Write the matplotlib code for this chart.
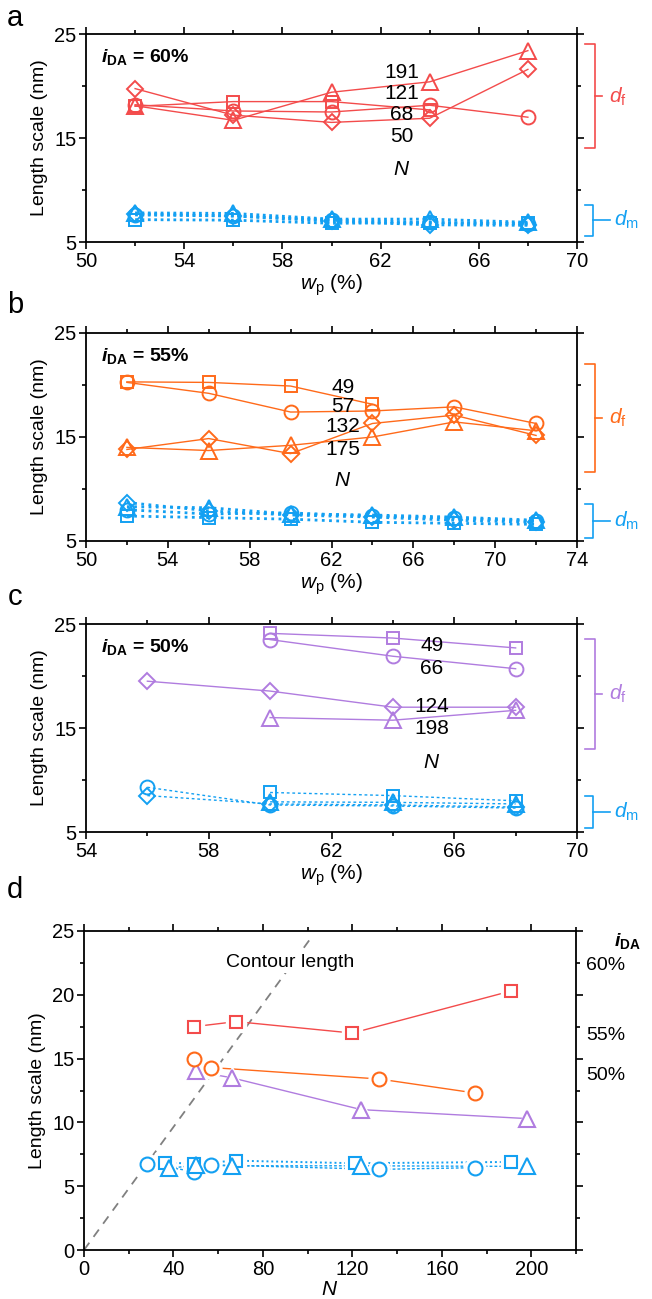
import numpy as np
import matplotlib
matplotlib.use('Agg')
import matplotlib.pyplot as plt
import matplotlib.transforms as mtransforms
from matplotlib.ticker import MultipleLocator

plt.rcParams['font.family'] = ['Liberation Sans', 'DejaVu Sans']
plt.rcParams['mathtext.fontset'] = 'custom'
plt.rcParams['mathtext.rm'] = 'Liberation Sans'
plt.rcParams['mathtext.it'] = 'Liberation Sans:italic'
plt.rcParams['mathtext.bf'] = 'Liberation Sans:bold'
plt.rcParams['mathtext.bfit'] = 'Liberation Sans:italic:bold'

nan = np.nan

# ---- panel a : i_DA = 60 % ----
wp_a = [52, 56, 60, 64, 68]
a_df_sq = [18.05, 18.5, 18.5, 17.7, nan]
a_df_ci = [18.2, 17.6, 17.5, 18.15, 17.0]
a_df_tr = [18.1, 16.7, 19.4, 20.4, 23.4]
a_df_di = [19.75, 17.2, 16.5, 16.9, 21.6]
a_dm_sq = [7.15, 7.1, 6.8, 6.85, 6.8]
a_dm_ci = [7.6, 7.5, 7.1, 6.9, 6.7]
a_dm_tr = [7.8, 7.75, 7.2, 7.2, 6.9]
a_dm_di = [7.7, 7.5, 7.0, 6.65, 6.6]
a_N = ['191', '121', '68', '50']

# ---- panel b : i_DA = 55 % ----
wp_b = [52, 56, 60, 64, 68, 72]
b_df_sq = [20.3, 20.25, 19.9, 18.15, nan, nan]
b_df_ci = [20.25, 19.2, 17.4, 17.5, 17.9, 16.3]
b_df_di = [13.8, 14.85, 13.4, 16.3, 17.1, 15.15]
b_df_tr = [14.0, 13.7, 14.2, 15.0, 16.45, 15.6]
b_dm_sq = [7.4, 7.25, 7.1, 6.8, 6.7, 6.6]
b_dm_ci = [8.0, 7.6, 7.7, 7.4, 7.2, 6.9]
b_dm_tr = [8.3, 8.2, 7.6, 7.5, 7.3, 7.0]
b_dm_di = [8.7, 7.9, 7.5, 7.3, 7.0, 6.8]
b_N = ['49', '57', '132', '175']

# ---- panel c : i_DA = 50 % ----
wp_c = [56, 60, 64, 68]
c_df_sq = [nan, 24.1, 23.65, 22.7]
c_df_ci = [nan, 23.5, 21.9, 20.7]
c_df_di = [19.5, 18.55, 17.0, 17.0]
c_df_tr = [nan, 16.0, 15.75, 16.7]
c_dm_sq = [nan, 8.8, 8.5, 8.0]
c_dm_ci = [9.3, 7.6, 7.5, 7.3]
c_dm_tr = [nan, 7.9, 7.85, 7.7]
c_dm_di = [8.5, 7.7, 7.6, 7.4]
c_N = ['49', '66', '124', '198']

# ---- panel d : length scale vs N ----
N_60 = [49, 68, 120, 191]
df_60 = [17.5, 17.9, 17.0, 20.3]
N_55 = [49, 57, 132, 175]
df_55 = [14.95, 14.3, 13.4, 12.3]
N_50 = [50, 66, 124, 198]
df_50 = [14.0, 13.5, 11.0, 10.3]
Nm_60 = [36, 49, 68, 121, 191]
dm_60 = [6.85, 6.77, 7.0, 6.8, 6.9]
Nm_55 = [28, 49, 57, 132, 175]
dm_55 = [6.77, 6.15, 6.67, 6.32, 6.45]
Nm_50 = [38, 50, 66, 124, 198]
dm_50 = [6.4, 6.65, 6.6, 6.6, 6.55]
contour_N = [0, 102]
contour_nm_per_N = 0.241

RED = '#f34b4b'
ORANGE = '#ff6a1a'
PURPLE = '#b07cdf'
BLUE = '#13a0f2'

W, H = 652, 1299
fig = plt.figure(figsize=(W / 100, H / 100), dpi=100)


def rect(l, r, t, b):
    return [l / W, 1 - b / H, (r - l) / W, (b - t) / H]


def style_axes(ax, xmaj, xoff, xmin, ymaj, yoff, ymin):
    ax.xaxis.set_major_locator(MultipleLocator(xmaj, offset=xoff))
    ax.xaxis.set_minor_locator(MultipleLocator(xmin))
    ax.yaxis.set_major_locator(MultipleLocator(ymaj, offset=yoff))
    ax.yaxis.set_minor_locator(MultipleLocator(ymin))
    ax.tick_params(which='both', direction='out', top=True, right=True, width=1.2, labelsize=14.5, pad=2)
    ax.tick_params(which='major', length=5)
    ax.tick_params(which='minor', length=3)
    for sp in ax.spines.values():
        sp.set_linewidth(1.3)


MARKS = {'s': 9, 'o': 10, '^': 11, 'D': 8.5}


def series(ax, x, y, mk, color, ls, lw):
    ax.plot(x, y, ls=ls, lw=lw, color=color, marker=mk, ms=MARKS[mk], mfc='none',
            mec=color, mew=1.4, zorder=3)


def bracket(ax, y0, y1, color, label, xv, xe, xt, xl):
    tr = mtransforms.blended_transform_factory(ax.transAxes, ax.transData)
    ym = 0.5 * (y0 + y1)
    ax.plot([xe, xv, xv, xe], [y0, y0, y1, y1], color=color, lw=1.2, transform=tr, clip_on=False)
    ax.plot([xv, xt], [ym, ym], color=color, lw=1.2, transform=tr, clip_on=False)
    ax.text(xl, ym, label, color=color, fontsize=15, transform=tr, ha='left', va='center')


def wp_panel(rc, xlim, wp, df_list, dm_list, color, dm_ls, dm_lw, title, nlab, nx, ny, br):
    ax = fig.add_axes(rect(*rc))
    for y, mk in zip(dm_list, ['s', 'o', '^', 'D']):
        series(ax, wp, y, mk, BLUE, dm_ls, dm_lw)
    for y, mk in zip(df_list, ['s', 'o', '^', 'D']):
        series(ax, wp, y, mk, color, '-', 1.0)
    ax.set_xlim(*xlim)
    ax.set_ylim(5, 25)
    style_axes(ax, 4, 2, 2, 10, 5, 5)
    ax.set_ylabel('Length scale (nm)', fontsize=14, labelpad=4)
    ax.set_xlabel(r'$w_\mathrm{p}$ (%)', fontsize=15, labelpad=1)
    ax.text(0.03, 0.89, r'$\mathbfit{i}_\mathbf{DA}$' + ' = ' + title, transform=ax.transAxes,
            fontsize=14, fontweight='bold', ha='left', va='center')
    for lab, yy in zip(nlab, ny[:-1]):
        ax.text(nx, yy, lab, fontsize=15, ha='center', va='center', zorder=5)
    ax.text(nx, ny[-1], r'$N$', fontsize=15, ha='center', va='center')
    bracket(ax, br[0], br[1], color, r'$d_\mathrm{f}$', 1.037, 1.016, 1.05, 1.066)
    bracket(ax, br[2], br[3], BLUE, r'$d_\mathrm{m}$', 1.033, 1.016, 1.067, 1.075)
    return ax


ax_a = wp_panel((86, 577, 34, 242), (50, 70), wp_a,
                [a_df_sq, a_df_ci, a_df_tr, a_df_di], [a_dm_sq, a_dm_ci, a_dm_tr, a_dm_di],
                RED, (0, (1, 1.3)), 2.0, '60%', a_N, 62.86, [21.3, 19.3, 17.3, 15.1, 12.0],
                (24.0, 14.0, 8.6, 5.6))
ax_b = wp_panel((86, 577, 333, 541), (50, 74), wp_b,
                [b_df_sq, b_df_ci, b_df_tr, b_df_di], [b_dm_sq, b_dm_ci, b_dm_tr, b_dm_di],
                ORANGE, (0, (1, 1.6)), 2.0, '55%', b_N, 62.56, [19.8, 17.9, 16.0, 13.75, 10.8],
                (22.0, 11.6, 8.6, 5.3))
ax_c = wp_panel((86, 577, 624, 832), (54, 70), wp_c,
                [c_df_sq, c_df_ci, c_df_tr, c_df_di], [c_dm_sq, c_dm_ci, c_dm_tr, c_dm_di],
                PURPLE, (0, (2, 2)), 1.0, '50%', c_N, 65.27, [22.9, 20.7, 17.05, 15.0, 11.7],
                (23.6, 13.0, 8.5, 5.4))

# ---- panel d ----
ax_d = fig.add_axes(rect(84, 576, 931, 1250))
cx = np.array(contour_N)
ax_d.plot(cx, cx * contour_nm_per_N, color='#808080', lw=1.3, ls=(0, (5, 4)), zorder=1)
ax_d.text(92, 22.5, 'Contour length', fontsize=14, ha='center', va='center', zorder=2,
          bbox=dict(facecolor='white', edgecolor='none', pad=1))


def gap_series(ax, x, y, mk, color, ls, lw):
    ax.plot(x, y, ls=ls, lw=lw, color=color, zorder=3)
    ax.plot(x, y, ls='none', marker=mk, ms=MARKS[mk] + 5, mfc='white', mec='white', zorder=4)
    ax.plot(x, y, ls='none', marker=mk, ms=MARKS[mk], mfc='white', mec=color, mew=1.5, zorder=5)


gap_series(ax_d, Nm_55, dm_55, 'o', BLUE, (0, (2, 1.5)), 1.0)
gap_series(ax_d, Nm_60, dm_60, 's', BLUE, (0, (1, 1.5)), 1.4)
gap_series(ax_d, Nm_50, dm_50, '^', BLUE, (0, (2, 1.5)), 1.0)
gap_series(ax_d, N_60, df_60, 's', RED, '-', 1.0)
gap_series(ax_d, N_50, df_50, '^', PURPLE, '-', 1.0)
gap_series(ax_d, N_55, df_55, 'o', ORANGE, '-', 1.0)
ax_d.set_xlim(0, 220)
ax_d.set_ylim(0, 25)
style_axes(ax_d, 40, 0, 20, 5, 0, 2.5)
ax_d.set_ylabel('Length scale (nm)', fontsize=14, labelpad=4)
ax_d.set_xlabel(r'$N$', fontsize=15, labelpad=1)
trd = mtransforms.blended_transform_factory(ax_d.transAxes, ax_d.transData)
ax_d.text(1.105, 24.2, r'$\mathbfit{i}_\mathbf{DA}$', transform=trd, fontsize=14,
          ha='center', va='center')
ax_d.text(1.06, 22.3, '60%', transform=trd, fontsize=14, ha='center', va='center')
ax_d.text(1.06, 16.8, '55%', transform=trd, fontsize=14, ha='center', va='center')
ax_d.text(1.06, 13.7, '50%', transform=trd, fontsize=14, ha='center', va='center')

for lab, py in zip(['a', 'b', 'c', 'd'], [18, 305, 597, 890]):
    fig.text(15 / W, 1 - py / H, lab, fontsize=21, ha='center', va='center')

fig.savefig('out.png', dpi=100)
